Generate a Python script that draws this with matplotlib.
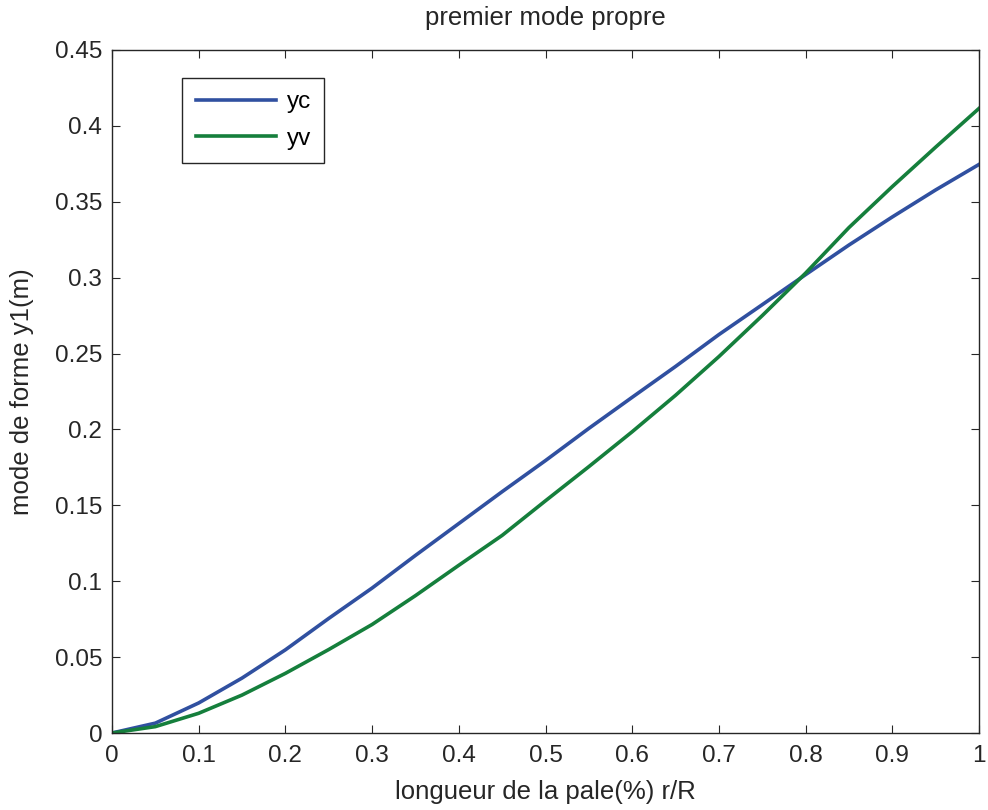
import numpy as np
import matplotlib
matplotlib.use("Agg")
import matplotlib.pyplot as plt

# r/R positions (every 0.05)
r = [0.0, 0.05, 0.10, 0.15, 0.20, 0.25, 0.30, 0.35, 0.40, 0.45, 0.50,
     0.55, 0.60, 0.65, 0.70, 0.75, 0.80, 0.85, 0.90, 0.95, 1.00]

yc = [0.0, 0.0065, 0.0198, 0.0362, 0.0548, 0.0755, 0.0955, 0.1170, 0.1380,
      0.1590, 0.1795, 0.2007, 0.2212, 0.2415, 0.2625, 0.2822, 0.3020,
      0.3215, 0.3400, 0.3578, 0.3746]

yv = [0.0, 0.0042, 0.0130, 0.0250, 0.0393, 0.0550, 0.0715, 0.0905, 0.1105,
      0.1302, 0.1530, 0.1755, 0.1985, 0.2225, 0.2480, 0.2750, 0.3030,
      0.3330, 0.3600, 0.3860, 0.4115]

xticks = [0, 0.1, 0.2, 0.3, 0.4, 0.5, 0.6, 0.7, 0.8, 0.9, 1]
xticklabels = ['0', '0.1', '0.2', '0.3', '0.4', '0.5', '0.6', '0.7', '0.8', '0.9', '1']
yticks = [0, 0.05, 0.1, 0.15, 0.2, 0.25, 0.3, 0.35, 0.4, 0.45]
yticklabels = ['0', '0.05', '0.1', '0.15', '0.2', '0.25', '0.3', '0.35', '0.4', '0.45']

plt.rcParams['font.family'] = ['Liberation Sans', 'DejaVu Sans']
fs = 17.5
lfs = 18.5

fig = plt.figure(figsize=(9.88, 8.10), dpi=100)
ax = fig.add_axes([112 / 988, 77 / 810, 867 / 988, 683 / 810])

ax.plot(r, yc, color='#3050a0', lw=2.6, label='yc')
ax.plot(r, yv, color='#157f3c', lw=2.6, label='yv')

ax.set_xlim(0, 1)
ax.set_ylim(0, 0.45)
ax.set_xticks(xticks)
ax.set_xticklabels(xticklabels)
ax.set_yticks(yticks)
ax.set_yticklabels(yticklabels)
ax.tick_params(direction='in', length=6, width=0.8, top=True, right=True,
               labelsize=fs, colors='#262626')
ax.tick_params(axis='x', pad=9)
ax.tick_params(axis='y', pad=7)
for s in ax.spines.values():
    s.set_color('#262626')
    s.set_linewidth(1.0)

ax.set_title('premier mode propre', fontsize=lfs, color='#262626', pad=18)
ax.set_xlabel('longueur de la pale(%) r/R', fontsize=lfs, color='#262626', labelpad=9)
ax.set_ylabel('mode de forme y1(m)', fontsize=lfs, color='#262626', labelpad=15)

leg = ax.legend(loc='upper left', bbox_to_anchor=(0.081, 0.959), fontsize=fs,
                frameon=True, fancybox=False, handlelength=3.3, handletextpad=0.45,
                labelspacing=0.6, borderpad=0.55, borderaxespad=0)
leg.get_frame().set_edgecolor('#262626')
leg.get_frame().set_linewidth(1.0)
leg.get_frame().set_alpha(1)

fig.savefig('out.png', dpi=100)
